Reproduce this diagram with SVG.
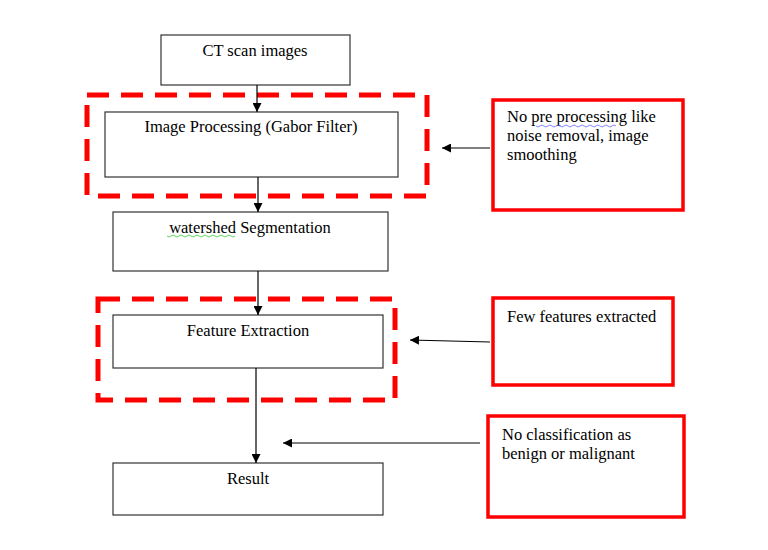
<svg xmlns="http://www.w3.org/2000/svg" width="768" height="550" viewBox="0 0 768 550">
<style>
.b{fill:#fff;stroke:#333;stroke-width:1.2}
.d{fill:none;stroke:#f00;stroke-width:5;stroke-dasharray:22 12}
.r{fill:#fff;stroke:#f00;stroke-width:3.5}
.c{stroke:#000;stroke-width:1.2;fill:none;marker-end:url(#a)}
text{font-family:"Liberation Serif","Times New Roman",serif;font-size:16.5px;fill:#000}
.m{text-anchor:middle}
.sq{fill:none;stroke-width:0.8}
</style>
<defs><marker id="a" viewBox="0 0 10 10" refX="10" refY="5" markerWidth="9" markerHeight="9" markerUnits="userSpaceOnUse" orient="auto"><path d="M0,0L10,5L0,10z" fill="#000"/></marker></defs>
<rect width="768" height="550" fill="#fff"/>
<g id="dash1"><rect class="d" x="87" y="95" width="340" height="101"/></g>
<g id="dash2"><rect class="d" x="98" y="299" width="297" height="101"/></g>
<g id="ct"><rect class="b" x="161" y="35" width="189" height="50"/><text class="m" x="255" y="56">CT scan images</text></g>
<g id="ip"><rect class="b" x="105" y="112" width="293" height="65"/><text class="m" x="251" y="132">Image Processing (Gabor Filter)</text></g>
<g id="ws"><rect class="b" x="113" y="212" width="275" height="59"/><text class="m" x="250" y="233">watershed Segmentation</text><path class="sq" stroke="#3c3" d="M167,236q2,2 4,0t4,0t4,0t4,0t4,0t4,0t4,0t4,0t4,0t4,0t4,0t4,0t4,0t4,0t4,0t4,0t4,0"/></g>
<g id="fe"><rect class="b" x="113" y="315" width="270" height="53"/><text class="m" x="248" y="336">Feature Extraction</text></g>
<g id="res"><rect class="b" x="113" y="463" width="270" height="52"/><text class="m" x="248" y="484">Result</text></g>
<g id="n1"><rect class="r" x="493" y="100" width="190" height="110"/><text x="507" y="122">No pre processing like</text><text x="507" y="141">noise removal, image</text><text x="507" y="160">smoothing</text><path class="sq" stroke="#66f" d="M536,126q2,2 4,0t4,0t4,0t4,0t4,0t4,0t4,0t4,0t4,0t4,0t4,0t4,0t4,0t4,0t4,0t4,0t4,0t4,0t4,0t4,0"/></g>
<g id="n2"><rect class="r" x="493" y="298" width="180" height="87"/><text x="507" y="322">Few features extracted</text></g>
<g id="n3"><rect class="r" x="488" y="416" width="196" height="101"/><text x="502" y="440">No classification as</text><text x="502" y="459">benign or malignant</text></g>
<g id="connectors">
<path class="c" d="M257,85V112"/>
<path class="c" d="M258,177V212"/>
<path class="c" d="M258,271V315"/>
<path class="c" d="M256,368V463"/>
<path class="c" d="M490,148H442"/>
<path class="c" d="M490,342L410,340"/>
<path class="c" d="M480,443H283"/>
</g>
</svg>
